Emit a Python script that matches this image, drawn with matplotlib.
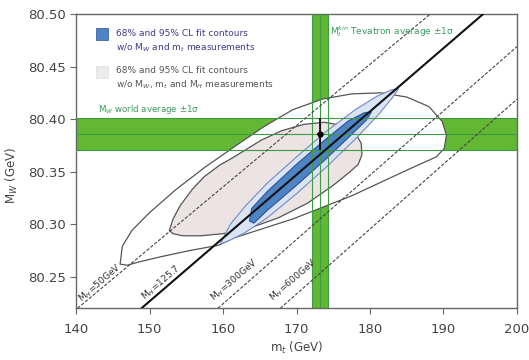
import matplotlib
matplotlib.use("Agg")
import matplotlib.pyplot as plt
from matplotlib.patches import Rectangle

# ---------------- data ----------------
x_ticks = [140, 150, 160, 170, 180, 190, 200]
y_ticks = [80.25, 80.30, 80.35, 80.40, 80.45, 80.50]
y_tick_labels = ["80.25", "80.30", "80.35", "80.40", "80.45", "80.50"]

# measurements (central value, band low, band high)
mw_world = [80.3857, 80.3706, 80.4008]
mt_tevatron = [173.2, 172.07, 174.33]
point_x = [173.2]
point_y = [80.386]
point_xerr = [0.45]
point_yerr = [0.0155]

# fit contours w/o MW, mt and MH (grey)
grey95_x = [146.0, 146.3, 147.6, 150.0, 153.6, 157.5, 161.6, 165.6, 169.5, 173.5, 177.5, 181.5,
            185.0, 188.0, 189.8, 190.4, 190.1, 189.0, 185.5, 181.5, 177.5, 173.5, 169.5, 165.5,
            161.5, 159.4, 155.5, 151.5, 148.5, 147.0]
grey95_y = [80.262, 80.279, 80.294, 80.311, 80.333, 80.354, 80.374, 80.393, 80.409, 80.419, 80.424, 80.425,
            80.421, 80.412, 80.398, 80.385, 80.372, 80.364, 80.353, 80.340, 80.327, 80.316, 80.305, 80.296,
            80.287, 80.280, 80.275, 80.269, 80.264, 80.261]
grey68_x = [152.7, 153.2, 154.2, 155.8, 157.4, 159.5, 161.5, 165.2, 168.0, 171.0, 173.8, 176.2, 178.0,
            178.8, 178.9, 178.4, 177.3, 175.0, 171.5, 167.5, 163.5, 160.0, 157.0, 154.5, 153.2]
grey68_y = [80.294, 80.305, 80.318, 80.333, 80.345, 80.356, 80.364, 80.380, 80.389, 80.395, 80.397, 80.394, 80.387,
            80.377, 80.366, 80.357, 80.350, 80.337, 80.320, 80.306, 80.296, 80.291, 80.289, 80.289, 80.291]

# fit contours w/o MW and mt (blue)
blue95_x = [159.6, 161.0, 163.0, 166.0, 170.0, 174.0, 178.0, 181.0, 183.0, 183.9,
            183.0, 181.0, 178.0, 174.0, 170.0, 166.0, 163.0, 161.0]
blue95_y = [80.281, 80.300, 80.317, 80.339, 80.364, 80.388, 80.409, 80.422, 80.428, 80.429,
            80.420, 80.403, 80.381, 80.354, 80.329, 80.306, 80.292, 80.285]
blue68_x = [163.6, 163.9, 166.0, 170.0, 174.0, 177.0, 179.2, 180.2,
            179.5, 177.0, 174.0, 170.0, 166.0, 164.2]
blue68_y = [80.303, 80.315, 80.331, 80.357, 80.381, 80.398, 80.406, 80.407,
            80.399, 80.382, 80.362, 80.337, 80.313, 80.301]

# lines of constant Higgs mass (two end points each)
mh_labels = ["M$_H$=50GeV", "M$_H$=125.7", "M$_H$=300GeV", "M$_H$=600GeV"]
mh_x = [[140.2, 188.2], [148.9, 195.4], [159.3, 200.0], [167.8, 200.0]]
mh_y = [[80.22, 80.50], [80.22, 80.50], [80.22, 80.469], [80.22, 80.419]]
mh_label_x = [143.3, 151.6, 161.5, 169.6]
mh_label_y = [80.244, 80.244, 80.247, 80.247]

# ---------------- styling ----------------
GREEN_FILL = "#62b832"
GREEN_LINE = "#3d9a45"
GREEN_TEXT = "#3a9a5c"
BLUE_DARK = "#4d84c4"
BLUE_DARK_EDGE = "#2f4f9c"
BLUE_LIGHT = "#dbe4f4"
BLUE_LIGHT_EDGE = "#7388c6"
GREY_FILL = "#ece4e2"
GREY_EDGE = "#555555"
AX_COL = "#666666"

plt.rcParams['font.family'] = ['DejaVu Sans']

fig = plt.figure(figsize=(5.29, 3.60), dpi=100)
ax = fig.add_axes([0.1437, 0.1436, 0.8336, 0.8175])
ax.set_xlim(140, 200)
ax.set_ylim(80.22, 80.50)

# green bands
ax.axhspan(mw_world[1], mw_world[2], color=GREEN_FILL, lw=0, zorder=1)
ax.axvspan(mt_tevatron[1], mt_tevatron[2], color=GREEN_FILL, lw=0, zorder=1)

# grey contours
ax.fill(grey95_x, grey95_y, facecolor="white", edgecolor=GREY_EDGE, lw=0.9, zorder=2)
ax.fill(grey68_x, grey68_y, facecolor=GREY_FILL, edgecolor=GREY_EDGE, lw=0.9, zorder=3)
# blue contours
ax.fill(blue95_x, blue95_y, facecolor=BLUE_LIGHT, edgecolor=BLUE_LIGHT_EDGE, lw=0.8, zorder=4)
ax.fill(blue68_x, blue68_y, facecolor=BLUE_DARK, edgecolor=BLUE_DARK_EDGE, lw=0.8, zorder=5)

# band outlines and centre lines
for v in mw_world:
    ax.axhline(v, color=GREEN_LINE, lw=0.8, zorder=6)
for v in mt_tevatron:
    ax.axvline(v, color=GREEN_LINE, lw=0.8, zorder=6)

# Higgs-mass lines
for i, lab in enumerate(mh_labels):
    if i == 1:
        ax.plot(mh_x[i], mh_y[i], color="#111111", lw=1.5, zorder=7)
    else:
        ax.plot(mh_x[i], mh_y[i], color="#444444", lw=0.8, dashes=(3.0, 1.5), zorder=7)
    ax.text(mh_label_x[i], mh_label_y[i], lab, rotation=40.6, rotation_mode="anchor",
            ha="center", va="center", fontsize=6.6, color="#333333", zorder=8)

# measurement point
ax.errorbar(point_x, point_y, xerr=point_xerr, yerr=point_yerr, fmt="o", color="black",
            ms=3.5, lw=1.2, capsize=0, zorder=9)

# legend-like annotations
TXT = 6.5
ax.add_patch(Rectangle((0.045, 0.912), 0.027, 0.041, transform=ax.transAxes,
                       facecolor=BLUE_DARK, edgecolor=BLUE_DARK_EDGE, lw=0.5, zorder=10))
ax.text(0.091, 0.935, "68% and 95% CL fit contours", transform=ax.transAxes,
        fontsize=TXT, color="#3b3b8c", va="center", ha="left", zorder=10)
ax.text(0.091, 0.884, "w/o M$_W$ and m$_t$ measurements", transform=ax.transAxes,
        fontsize=TXT, color="#3b3b8c", va="center", ha="left", zorder=10)
ax.add_patch(Rectangle((0.045, 0.783), 0.027, 0.041, transform=ax.transAxes,
                       facecolor="#ebebeb", edgecolor="#dddddd", lw=0.5, zorder=10))
ax.text(0.091, 0.807, "68% and 95% CL fit contours", transform=ax.transAxes,
        fontsize=TXT, color="#555555", va="center", ha="left", zorder=10)
ax.text(0.091, 0.758, "w/o M$_W$, m$_t$ and M$_H$ measurements", transform=ax.transAxes,
        fontsize=TXT, color="#555555", va="center", ha="left", zorder=10)
ax.text(0.05, 0.674, "M$_W$ world average \u00b11\u03c3", transform=ax.transAxes,
        fontsize=6.2, color=GREEN_TEXT, va="center", ha="left", zorder=10)
ax.text(0.577, 0.939, "M$_t^{kin}$ Tevatron average \u00b11\u03c3", transform=ax.transAxes,
        fontsize=TXT, color=GREEN_TEXT, va="center", ha="left", zorder=10)

# axes styling
ax.set_xticks(x_ticks)
ax.set_yticks(y_ticks)
ax.set_yticklabels(y_tick_labels)
ax.tick_params(direction="out", length=4.5, width=0.8, color=AX_COL, labelsize=9.5,
               labelcolor="#444444")
ax.tick_params(axis="x", pad=6)
ax.tick_params(axis="y", pad=3)
for s in ax.spines.values():
    s.set_color(AX_COL)
    s.set_linewidth(1.0)
ax.set_xlabel("m$_t$ (GeV)", fontsize=8.5, color="#444444", labelpad=3)
ax.set_ylabel("M$_W$ (GeV)", fontsize=8.5, color="#444444")
ax.yaxis.set_label_coords(-0.128, 0.453)

fig.savefig("out.png", dpi=100)
